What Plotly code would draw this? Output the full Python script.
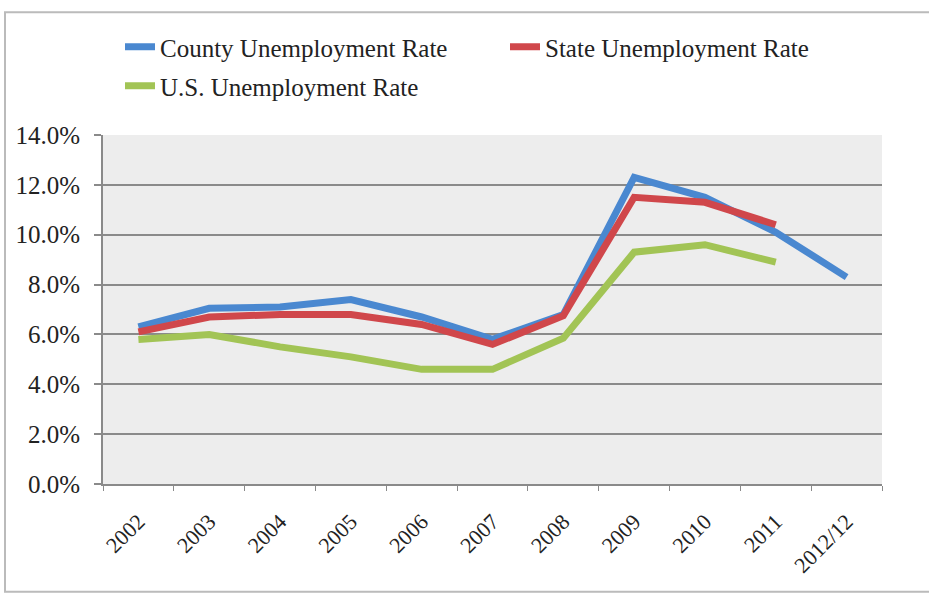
import plotly.graph_objects as go

years = ["2002", "2003", "2004", "2005", "2006", "2007", "2008", "2009", "2010", "2011", "2012/12"]
county = [6.3, 7.05, 7.1, 7.4, 6.7, 5.8, 6.8, 12.3, 11.5, 10.1, 8.3]
state = [6.1, 6.7, 6.8, 6.8, 6.4, 5.6, 6.75, 11.5, 11.3, 10.4, None]
us = [5.8, 6.0, 5.5, 5.1, 4.6, 4.6, 5.85, 9.3, 9.6, 8.9, None]

font_family = "Liberation Serif, DejaVu Serif, serif"
W, H = 929, 594

fig = go.Figure()
fig.add_trace(go.Scatter(x=years, y=county, mode="lines", name="County Unemployment Rate",
                         line=dict(color="#4A88D0", width=7), legend="legend", showlegend=True))
fig.add_trace(go.Scatter(x=years, y=state, mode="lines", name="State Unemployment Rate",
                         line=dict(color="#D0474B", width=7), legend="legend2", showlegend=True))
fig.add_trace(go.Scatter(x=years, y=us, mode="lines", name="U.S. Unemployment Rate",
                         line=dict(color="#A2C455", width=7), legend="legend3", showlegend=True))

def leg(xpx, ypx):
    return dict(xref="container", yref="container", x=xpx / W, y=1 - ypx / H,
                xanchor="left", yanchor="middle", font=dict(size=25, color="#222222"),
                bgcolor="rgba(0,0,0,0)", borderwidth=0, visible=True)

fig.update_layout(
    width=W, height=H,
    showlegend=True,
    margin=dict(l=103, r=47, t=135, b=110, autoexpand=False),
    paper_bgcolor="white",
    plot_bgcolor="#EDEDED",
    font=dict(family=font_family, size=20, color="#222222"),
    legend=leg(120, 47),
    legend2=leg(505, 47),
    legend3=leg(120, 86),
    shapes=[dict(type="rect", xref="paper", yref="paper", x0=-0.1258, x1=1.2, y0=-0.309, y1=1.352,
                 line=dict(color="#BBBBBB", width=2), layer="below")],
)

fig.update_yaxes(range=[0, 14], dtick=2, tickformat=".1f", ticksuffix="%",
                 showgrid=True, gridcolor="#8A8A8A", gridwidth=2,
                 showline=True, linecolor="#8A8A8A", linewidth=2,
                 ticks="outside", ticklen=7, tickcolor="#8A8A8A", tickwidth=2,
                 ticklabelstandoff=9,
                 zeroline=False, tickfont=dict(size=25), fixedrange=True)
fig.update_xaxes(type="category", range=[-0.5, len(years) - 0.5], tickangle=-45, showgrid=False,
                 showline=True, linecolor="#8A8A8A", linewidth=2,
                 ticks="outside", ticklen=5, tickcolor="#8A8A8A", tickson="boundaries",
                 ticklabelstandoff=14,
                 tickfont=dict(size=22), fixedrange=True)

fig.write_html("out.html", config={"displayModeBar": False},
               post_script="document.body.style.margin='0';")
